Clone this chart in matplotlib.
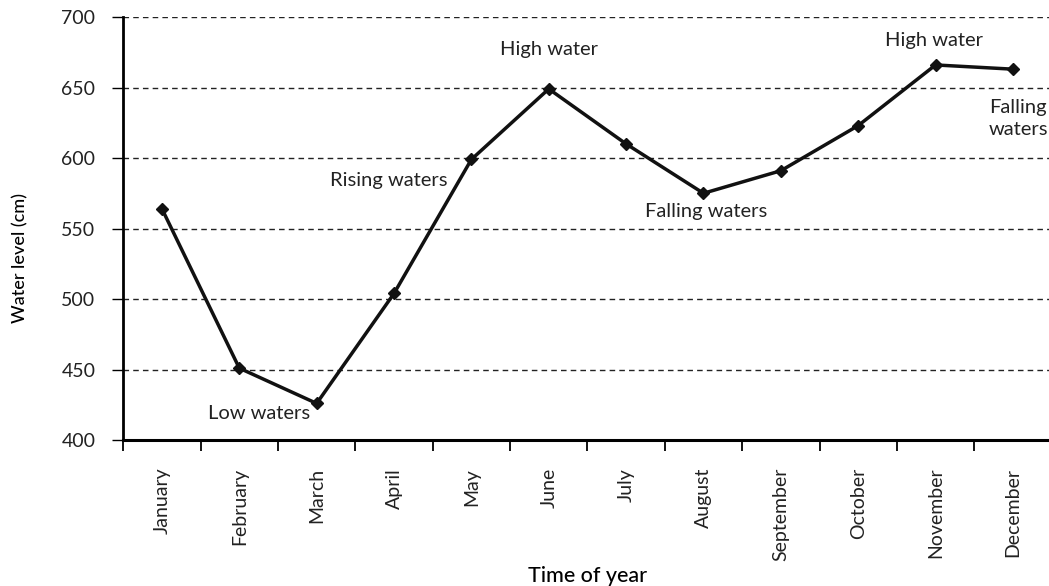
import matplotlib.pyplot as plt
import numpy as np

plt.rcParams['font.family'] = ['Lato', 'DejaVu Sans']

months = ['January', 'February', 'March', 'April', 'May', 'June', 'July',
          'August', 'September', 'October', 'November', 'December']
level = [564, 451, 426, 504, 599, 649, 610, 575, 591, 623, 666, 663]

notes = ['High water', 'Low waters', 'Rising waters', 'Falling waters',
         'High water', 'Falling\nwaters']
note_x = [5.0, 1.26, 2.93, 7.03, 9.98, 11.07]
note_y = [677, 419, 584, 562, 683, 628]

fig = plt.figure(figsize=(10.49, 5.86), dpi=100)
ax = fig.add_axes([0.1175, 0.249, 0.885, 0.722])

x = np.arange(len(months))
ax.plot(x, level, color='#111111', lw=2.5, marker='D', ms=6.5, zorder=3)

for t, nx, ny in zip(notes, note_x, note_y):
    ax.text(nx, ny, t, ha='center', va='center', fontsize=14.5,
            color='#222222', linespacing=1.3)

ax.set_xlim(-0.5, 11.5)
ax.set_ylim(400, 700)
ax.set_yticks(np.arange(400, 701, 50))
ax.yaxis.grid(True, linestyle=(0, (4, 3)), color='#222222', lw=1)
ax.set_axisbelow(True)

ax.set_xticks(x)
ax.set_xticklabels(months, rotation=90, fontsize=14, color='#222222')
ax.tick_params(axis='x', length=0, pad=20)
ax.set_xticks(np.arange(-0.5, 12, 1), minor=True)
ax.tick_params(axis='x', which='minor', length=8, width=1.3, direction='out')
ax.tick_params(axis='y', length=8, width=1, labelsize=14, pad=12,
               labelcolor='#222222')

for s in ['top', 'right']:
    ax.spines[s].set_visible(False)
ax.spines['left'].set_linewidth(2)
ax.spines['bottom'].set_linewidth(2.2)

ax.set_ylabel('Water level (cm)', fontsize=13, fontweight='medium')
ax.yaxis.set_label_coords(-0.102, 0.43)
ax.set_xlabel('Time of year', fontsize=15.5, fontweight='medium')
ax.xaxis.set_label_coords(0.5, -0.298)

fig.savefig('out.png', dpi=100)
